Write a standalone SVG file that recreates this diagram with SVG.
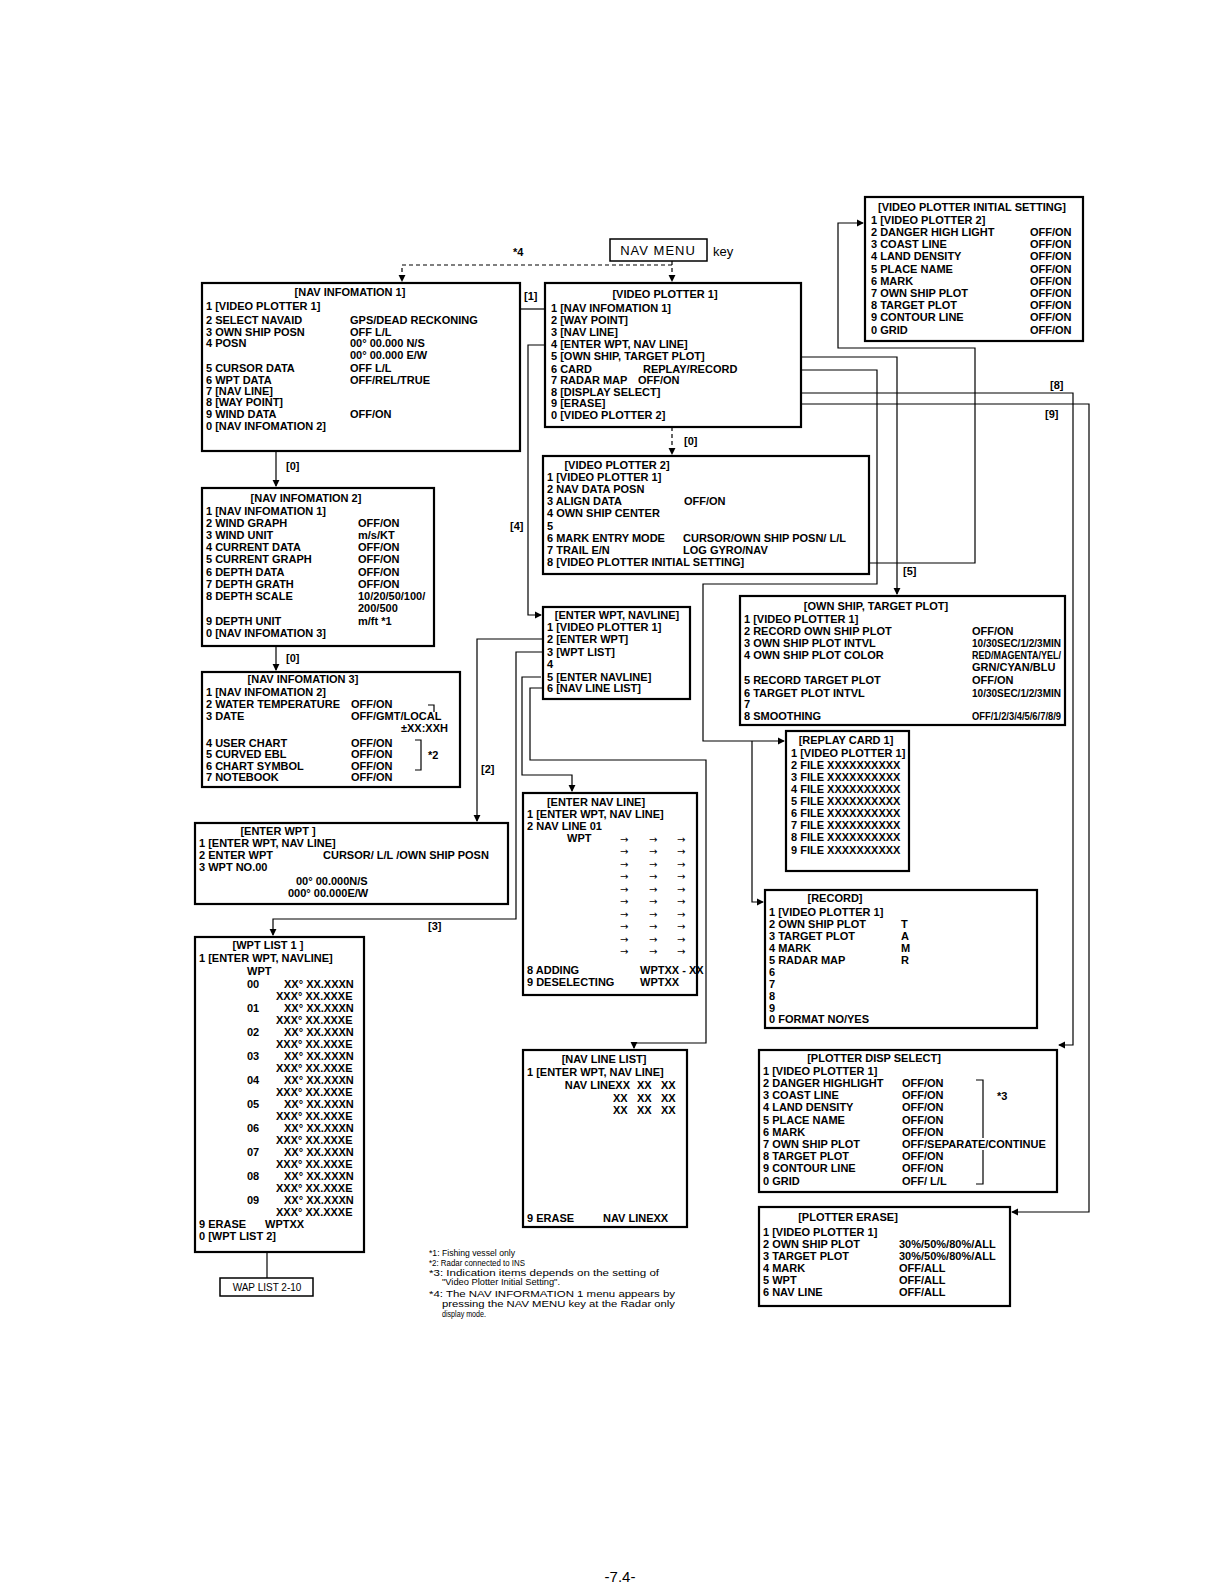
<svg xmlns="http://www.w3.org/2000/svg" width="1224" height="1584" viewBox="0 0 1224 1584">
<defs>
<style>
.b{fill:#fff;stroke:#000;stroke-width:2.2}
.t{font-family:"Liberation Sans",Arial,sans-serif;font-weight:bold;font-size:11px;fill:#000}
.h{text-anchor:middle}
.s{font-family:"Liberation Sans",Arial,sans-serif;font-size:9px;fill:#000}
.ar{font-family:"DejaVu Sans",sans-serif;font-size:10px;fill:#000}
.c{fill:none;stroke:#000;stroke-width:1.2}
.d{fill:none;stroke:#000;stroke-width:1.2;stroke-dasharray:4 3}
</style>
<marker id="a" viewBox="0 0 8 8" refX="7" refY="4" markerWidth="6" markerHeight="6" orient="auto"><path d="M0,0L8,4L0,8z" fill="#000"/></marker>
</defs>
<rect width="1224" height="1584" fill="#fff"/>

<g id="connectors">
<path class="d" d="M672,265H402V281" marker-end="url(#a)"/>
<path class="d" d="M672,261V281" marker-end="url(#a)"/>
<text class="t" x="513" y="256">*4</text>
<path class="c" d="M520,309H545"/>
<text class="t" x="524" y="300">[1]</text>
<path class="d" d="M672,427V454" marker-end="url(#a)"/>
<text class="t" x="684" y="445">[0]</text>
<path class="c" d="M276,451V486" marker-end="url(#a)"/>
<text class="t" x="286" y="470">[0]</text>
<path class="c" d="M276,646V670" marker-end="url(#a)"/>
<text class="t" x="286" y="662">[0]</text>
<path class="c" d="M545,345H528V615H541" marker-end="url(#a)"/>
<text class="t" x="510" y="530">[4]</text>
<path class="c" d="M543,639H477V821" marker-end="url(#a)"/>
<text class="t" x="481" y="773">[2]</text>
<path class="c" d="M543,652H516V919H273V935" marker-end="url(#a)"/>
<text class="t" x="428" y="930">[3]</text>
<path class="c" d="M541,677H522V775H572V791" marker-end="url(#a)"/>
<path class="c" d="M543,688H530V760H706V1043H634V1048" marker-end="url(#a)"/>
<path class="c" d="M716,357H897V594" marker-end="url(#a)"/>
<text class="t" x="903" y="575">[5]</text>
<path class="c" d="M743,370H877V584H703V741H784" marker-end="url(#a)"/>
<path class="c" d="M752,741V902H763" marker-end="url(#a)"/>
<path class="c" d="M752,563H975V348H838V223H863" marker-end="url(#a)"/>
<path class="c" d="M668,393H1073V1045H1059" marker-end="url(#a)"/>
<text class="t" x="1050" y="389">[8]</text>
<path class="c" d="M612,404H1089V1212H1012" marker-end="url(#a)"/>
<text class="t" x="1045" y="418">[9]</text>
<path class="c" d="M267,1252V1278"/>
<path class="c" d="M731,502c8,0 14,-1 22,-4" marker-end="url(#a)"/>
</g>

<g id="nav-menu-key">
<rect x="610" y="239" width="97" height="22" fill="#fff" stroke="#000" stroke-width="1.5"/>
<text x="658" y="255" text-anchor="middle" style="font-family:'Liberation Sans',Arial,sans-serif;font-size:13px;letter-spacing:1px">NAV MENU</text>
<text x="713" y="256" style="font-family:'Liberation Sans',Arial,sans-serif;font-size:13px">key</text>
</g>

<g id="video-plotter-initial-setting">
<rect class="b" x="865" y="197" width="218" height="144"/>
<text class="t h" x="972" y="211">[VIDEO PLOTTER INITIAL SETTING]</text>
<text class="t" x="871" y="224">1 [VIDEO PLOTTER 2]</text>
<text class="t" x="871" y="236">2 DANGER HIGH LIGHT</text><text class="t" x="1030" y="236">OFF/ON</text>
<text class="t" x="871" y="248">3 COAST LINE</text><text class="t" x="1030" y="248">OFF/ON</text>
<text class="t" x="871" y="260">4 LAND DENSITY</text><text class="t" x="1030" y="260">OFF/ON</text>
<text class="t" x="871" y="273">5 PLACE NAME</text><text class="t" x="1030" y="273">OFF/ON</text>
<text class="t" x="871" y="285">6 MARK</text><text class="t" x="1030" y="285">OFF/ON</text>
<text class="t" x="871" y="297">7 OWN SHIP PLOT</text><text class="t" x="1030" y="297">OFF/ON</text>
<text class="t" x="871" y="309">8 TARGET PLOT</text><text class="t" x="1030" y="309">OFF/ON</text>
<text class="t" x="871" y="321">9 CONTOUR LINE</text><text class="t" x="1030" y="321">OFF/ON</text>
<text class="t" x="871" y="334">0 GRID</text><text class="t" x="1030" y="334">OFF/ON</text>
</g>

<g id="nav-information-1">
<rect class="b" x="202" y="283" width="318" height="168"/>
<text class="t h" x="350" y="296">[NAV INFOMATION 1]</text>
<text class="t" x="206" y="310">1 [VIDEO PLOTTER 1]</text>
<text class="t" x="206" y="324">2 SELECT NAVAID</text><text class="t" x="350" y="324">GPS/DEAD RECKONING</text>
<text class="t" x="206" y="336">3 OWN SHIP POSN</text><text class="t" x="350" y="336">OFF L/L</text>
<text class="t" x="206" y="347">4 POSN</text><text class="t" x="350" y="347">00° 00.000 N/S</text>
<text class="t" x="350" y="359">00° 00.000 E/W</text>
<text class="t" x="206" y="372">5 CURSOR DATA</text><text class="t" x="350" y="372">OFF L/L</text>
<text class="t" x="206" y="384">6 WPT DATA</text><text class="t" x="350" y="384">OFF/REL/TRUE</text>
<text class="t" x="206" y="395">7 [NAV LINE]</text>
<text class="t" x="206" y="406">8 [WAY POINT]</text>
<text class="t" x="206" y="418">9 WIND DATA</text><text class="t" x="350" y="418">OFF/ON</text>
<text class="t" x="206" y="430">0 [NAV INFOMATION 2]</text>
</g>

<g id="video-plotter-1">
<rect class="b" x="545" y="283" width="256" height="144"/>
<text class="t h" x="665" y="298">[VIDEO PLOTTER 1]</text>
<text class="t" x="551" y="312">1 [NAV INFOMATION 1]</text>
<text class="t" x="551" y="324">2 [WAY POINT]</text>
<text class="t" x="551" y="336">3 [NAV LINE]</text>
<text class="t" x="551" y="348">4 [ENTER WPT, NAV LINE]</text>
<text class="t" x="551" y="360">5 [OWN SHIP, TARGET PLOT]</text>
<text class="t" x="551" y="373">6 CARD</text><text class="t" x="643" y="373">REPLAY/RECORD</text>
<text class="t" x="551" y="384">7 RADAR MAP</text><text class="t" x="638" y="384">OFF/ON</text>
<text class="t" x="551" y="396">8 [DISPLAY SELECT]</text>
<text class="t" x="551" y="407">9 [ERASE]</text>
<text class="t" x="551" y="419">0 [VIDEO PLOTTER 2]</text>
</g>

<g id="video-plotter-2">
<rect class="b" x="543" y="456" width="326" height="118"/>
<text class="t h" x="617" y="469">[VIDEO PLOTTER 2]</text>
<text class="t" x="547" y="481">1 [VIDEO PLOTTER 1]</text>
<text class="t" x="547" y="493">2 NAV DATA POSN</text>
<text class="t" x="547" y="505">3 ALIGN DATA</text><text class="t" x="684" y="505">OFF/ON</text>
<text class="t" x="547" y="517">4 OWN SHIP CENTER</text>
<text class="t" x="547" y="530">5</text>
<text class="t" x="547" y="542">6 MARK ENTRY MODE</text><text class="t" x="683" y="542">CURSOR/OWN SHIP POSN/ L/L</text>
<text class="t" x="547" y="554">7 TRAIL E/N</text><text class="t" x="683" y="554">LOG GYRO/NAV</text>
<text class="t" x="547" y="566">8 [VIDEO PLOTTER INITIAL SETTING]</text>
</g>

<g id="nav-information-2">
<rect class="b" x="202" y="488" width="232" height="158"/>
<text class="t h" x="306" y="502">[NAV INFOMATION 2]</text>
<text class="t" x="206" y="515">1 [NAV INFOMATION 1]</text>
<text class="t" x="206" y="527">2 WIND GRAPH</text><text class="t" x="358" y="527">OFF/ON</text>
<text class="t" x="206" y="539">3 WIND UNIT</text><text class="t" x="358" y="539">m/s/KT</text>
<text class="t" x="206" y="551">4 CURRENT DATA</text><text class="t" x="358" y="551">OFF/ON</text>
<text class="t" x="206" y="563">5 CURRENT GRAPH</text><text class="t" x="358" y="563">OFF/ON</text>
<text class="t" x="206" y="576">6 DEPTH DATA</text><text class="t" x="358" y="576">OFF/ON</text>
<text class="t" x="206" y="588">7 DEPTH GRATH</text><text class="t" x="358" y="588">OFF/ON</text>
<text class="t" x="206" y="600">8 DEPTH SCALE</text><text class="t" x="358" y="600">10/20/50/100/</text>
<text class="t" x="358" y="612">200/500</text>
<text class="t" x="206" y="625">9 DEPTH UNIT</text><text class="t" x="358" y="625">m/ft *1</text>
<text class="t" x="206" y="637">0 [NAV INFOMATION 3]</text>
</g>

<g id="nav-information-3">
<rect class="b" x="202" y="672" width="258" height="115"/>
<text class="t h" x="303" y="683">[NAV INFOMATION 3]</text>
<text class="t" x="206" y="696">1 [NAV INFOMATION 2]</text>
<text class="t" x="206" y="708">2 WATER TEMPERATURE</text><text class="t" x="351" y="708">OFF/ON</text>
<text class="t" x="206" y="720">3 DATE</text><text class="t" x="351" y="720">OFF/GMT/LOCAL</text>
<text class="t" x="448" y="732" text-anchor="end">±XX:XXH</text>
<text class="t" x="206" y="747">4 USER CHART</text><text class="t" x="351" y="747">OFF/ON</text>
<text class="t" x="206" y="758">5 CURVED EBL</text><text class="t" x="351" y="758">OFF/ON</text>
<text class="t" x="206" y="770">6 CHART SYMBOL</text><text class="t" x="351" y="770">OFF/ON</text>
<text class="t" x="206" y="781">7 NOTEBOOK</text><text class="t" x="351" y="781">OFF/ON</text>
<path class="c" d="M428,705H434V712"/>
<path class="c" d="M415,740H421V770H415"/>
<text class="t" x="428" y="759">*2</text>
</g>

<g id="enter-wpt">
<rect class="b" x="195" y="823" width="313" height="81"/>
<text class="t h" x="278" y="835">[ENTER WPT ]</text>
<text class="t" x="199" y="847">1 [ENTER WPT, NAV LINE]</text>
<text class="t" x="199" y="859">2 ENTER WPT</text><text class="t" x="323" y="859">CURSOR/ L/L /OWN SHIP POSN</text>
<text class="t" x="199" y="871">3 WPT NO.00</text>
<text class="t" x="296" y="885">00° 00.000N/S</text>
<text class="t" x="288" y="897">000° 00.000E/W</text>
</g>

<g id="wpt-list-1">
<rect class="b" x="195" y="937" width="169" height="315"/>
<text class="t h" x="268" y="949">[WPT LIST 1 ]</text>
<text class="t" x="199" y="962">1 [ENTER WPT, NAVLINE]</text>
<text class="t" x="247" y="975">WPT</text>
<text class="t" x="247" y="988">00</text><text class="t" x="284" y="988">XX° XX.XXXN</text><text class="t" x="276" y="1000">XXX° XX.XXXE</text>
<text class="t" x="247" y="1012">01</text><text class="t" x="284" y="1012">XX° XX.XXXN</text><text class="t" x="276" y="1024">XXX° XX.XXXE</text>
<text class="t" x="247" y="1036">02</text><text class="t" x="284" y="1036">XX° XX.XXXN</text><text class="t" x="276" y="1048">XXX° XX.XXXE</text>
<text class="t" x="247" y="1060">03</text><text class="t" x="284" y="1060">XX° XX.XXXN</text><text class="t" x="276" y="1072">XXX° XX.XXXE</text>
<text class="t" x="247" y="1084">04</text><text class="t" x="284" y="1084">XX° XX.XXXN</text><text class="t" x="276" y="1096">XXX° XX.XXXE</text>
<text class="t" x="247" y="1108">05</text><text class="t" x="284" y="1108">XX° XX.XXXN</text><text class="t" x="276" y="1120">XXX° XX.XXXE</text>
<text class="t" x="247" y="1132">06</text><text class="t" x="284" y="1132">XX° XX.XXXN</text><text class="t" x="276" y="1144">XXX° XX.XXXE</text>
<text class="t" x="247" y="1156">07</text><text class="t" x="284" y="1156">XX° XX.XXXN</text><text class="t" x="276" y="1168">XXX° XX.XXXE</text>
<text class="t" x="247" y="1180">08</text><text class="t" x="284" y="1180">XX° XX.XXXN</text><text class="t" x="276" y="1192">XXX° XX.XXXE</text>
<text class="t" x="247" y="1204">09</text><text class="t" x="284" y="1204">XX° XX.XXXN</text><text class="t" x="276" y="1216">XXX° XX.XXXE</text>
<text class="t" x="199" y="1228">9 ERASE</text><text class="t" x="265" y="1228">WPTXX</text>
<text class="t" x="199" y="1240">0 [WPT LIST 2]</text>
</g>

<g id="wpt-list-2-10">
<rect x="220" y="1278" width="93" height="18" fill="#fff" stroke="#000" stroke-width="1.5"/>
<text class="h" x="267" y="1291" style="font-family:'Liberation Sans',Arial,sans-serif;font-size:10px">WAP LIST 2-10</text>
</g>

<g id="enter-wpt-navline">
<rect class="b" x="543" y="607" width="147" height="92"/>
<text class="t h" x="617" y="619">[ENTER WPT, NAVLINE]</text>
<text class="t" x="547" y="631">1 [VIDEO PLOTTER 1]</text>
<text class="t" x="547" y="643">2 [ENTER WPT]</text>
<text class="t" x="547" y="656">3 [WPT LIST]</text>
<text class="t" x="547" y="668">4</text>
<text class="t" x="547" y="681">5 [ENTER NAVLINE]</text>
<text class="t" x="547" y="692">6 [NAV LINE LIST]</text>
</g>

<g id="own-ship-target-plot">
<rect class="b" x="740" y="596" width="325" height="129"/>
<text class="t h" x="876" y="610">[OWN SHIP, TARGET PLOT]</text>
<text class="t" x="744" y="623">1 [VIDEO PLOTTER 1]</text>
<text class="t" x="744" y="635">2 RECORD OWN SHIP PLOT</text><text class="t" x="972" y="635">OFF/ON</text>
<text class="t" x="744" y="647">3 OWN SHIP PLOT INTVL</text><text class="t" x="972" y="647" textLength="89" lengthAdjust="spacingAndGlyphs">10/30SEC/1/2/3MIN</text>
<text class="t" x="744" y="659">4 OWN SHIP PLOT COLOR</text><text class="t" x="972" y="659" textLength="89" lengthAdjust="spacingAndGlyphs">RED/MAGENTA/YEL/</text>
<text class="t" x="972" y="671">GRN/CYAN/BLU</text>
<text class="t" x="744" y="684">5 RECORD TARGET PLOT</text><text class="t" x="972" y="684">OFF/ON</text>
<text class="t" x="744" y="697">6 TARGET PLOT INTVL</text><text class="t" x="972" y="697" textLength="89" lengthAdjust="spacingAndGlyphs">10/30SEC/1/2/3MIN</text>
<text class="t" x="744" y="708">7</text>
<text class="t" x="744" y="720">8 SMOOTHING</text><text class="t" x="972" y="720" textLength="89" lengthAdjust="spacingAndGlyphs">OFF/1/2/3/4/5/6/7/8/9</text>
</g>

<g id="replay-card-1">
<rect class="b" x="786" y="731" width="123" height="140"/>
<text class="t h" x="846" y="744">[REPLAY CARD 1]</text>
<text class="t" x="791" y="757">1 [VIDEO PLOTTER 1]</text>
<text class="t" x="791" y="769">2 FILE XXXXXXXXXX</text>
<text class="t" x="791" y="781">3 FILE XXXXXXXXXX</text>
<text class="t" x="791" y="793">4 FILE XXXXXXXXXX</text>
<text class="t" x="791" y="805">5 FILE XXXXXXXXXX</text>
<text class="t" x="791" y="817">6 FILE XXXXXXXXXX</text>
<text class="t" x="791" y="829">7 FILE XXXXXXXXXX</text>
<text class="t" x="791" y="841">8 FILE XXXXXXXXXX</text>
<text class="t" x="791" y="854">9 FILE XXXXXXXXXX</text>
</g>

<g id="record">
<rect class="b" x="765" y="890" width="272" height="138"/>
<text class="t h" x="835" y="902">[RECORD]</text>
<text class="t" x="769" y="916">1 [VIDEO PLOTTER 1]</text>
<text class="t" x="769" y="928">2 OWN SHIP PLOT</text><text class="t" x="901" y="928">T</text>
<text class="t" x="769" y="940">3 TARGET PLOT</text><text class="t" x="901" y="940">A</text>
<text class="t" x="769" y="952">4 MARK</text><text class="t" x="901" y="952">M</text>
<text class="t" x="769" y="964">5 RADAR MAP</text><text class="t" x="901" y="964">R</text>
<text class="t" x="769" y="976">6</text>
<text class="t" x="769" y="988">7</text>
<text class="t" x="769" y="1000">8</text>
<text class="t" x="769" y="1012">9</text>
<text class="t" x="769" y="1023">0 FORMAT  NO/YES</text>
</g>

<g id="enter-nav-line">
<rect class="b" x="523" y="793" width="174" height="202"/>
<text class="t h" x="596" y="806">[ENTER NAV LINE]</text>
<text class="t" x="527" y="818">1 [ENTER WPT, NAV LINE]</text>
<text class="t" x="527" y="830">2 NAV LINE 01</text>
<text class="t" x="567" y="842">WPT</text>
<g class="ar">
<text x="620" y="843">→</text><text x="649" y="843">→</text><text x="677" y="843">→</text>
<text x="620" y="855">→</text><text x="649" y="855">→</text><text x="677" y="855">→</text>
<text x="620" y="868">→</text><text x="649" y="868">→</text><text x="677" y="868">→</text>
<text x="620" y="880">→</text><text x="649" y="880">→</text><text x="677" y="880">→</text>
<text x="620" y="893">→</text><text x="649" y="893">→</text><text x="677" y="893">→</text>
<text x="620" y="905">→</text><text x="649" y="905">→</text><text x="677" y="905">→</text>
<text x="620" y="918">→</text><text x="649" y="918">→</text><text x="677" y="918">→</text>
<text x="620" y="930">→</text><text x="649" y="930">→</text><text x="677" y="930">→</text>
<text x="620" y="943">→</text><text x="649" y="943">→</text><text x="677" y="943">→</text>
<text x="620" y="955">→</text><text x="649" y="955">→</text><text x="677" y="955">→</text>
</g>
<text class="t" x="527" y="974">8 ADDING</text><text class="t" x="640" y="974">WPTXX - XX</text>
<text class="t" x="527" y="986">9 DESELECTING</text><text class="t" x="640" y="986">WPTXX</text>
</g>

<g id="nav-line-list">
<rect class="b" x="523" y="1050" width="164" height="177"/>
<text class="t h" x="604" y="1063">[NAV LINE LIST]</text>
<text class="t" x="527" y="1076">1 [ENTER WPT, NAV LINE]</text>
<text class="t" x="630" y="1089" text-anchor="end">NAV LINEXX</text><text class="t" x="637" y="1089">XX</text><text class="t" x="661" y="1089">XX</text>
<text class="t" x="613" y="1102">XX</text><text class="t" x="637" y="1102">XX</text><text class="t" x="661" y="1102">XX</text>
<text class="t" x="613" y="1114">XX</text><text class="t" x="637" y="1114">XX</text><text class="t" x="661" y="1114">XX</text>
<text class="t" x="527" y="1222">9 ERASE</text><text class="t" x="603" y="1222">NAV LINEXX</text>
</g>

<g id="plotter-disp-select">
<rect class="b" x="759" y="1050" width="298" height="142"/>
<text class="t h" x="874" y="1062">[PLOTTER DISP SELECT]</text>
<text class="t" x="763" y="1075">1 [VIDEO PLOTTER 1]</text>
<text class="t" x="763" y="1087">2 DANGER HIGHLIGHT</text><text class="t" x="902" y="1087">OFF/ON</text>
<text class="t" x="763" y="1099">3 COAST LINE</text><text class="t" x="902" y="1099">OFF/ON</text>
<text class="t" x="763" y="1111">4 LAND DENSITY</text><text class="t" x="902" y="1111">OFF/ON</text>
<text class="t" x="763" y="1124">5 PLACE NAME</text><text class="t" x="902" y="1124">OFF/ON</text>
<text class="t" x="763" y="1136">6 MARK</text><text class="t" x="902" y="1136">OFF/ON</text>
<text class="t" x="763" y="1148">7 OWN SHIP PLOT</text><text class="t" x="902" y="1148">OFF/SEPARATE/CONTINUE</text>
<text class="t" x="763" y="1160">8 TARGET PLOT</text><text class="t" x="902" y="1160">OFF/ON</text>
<text class="t" x="763" y="1172">9 CONTOUR LINE</text><text class="t" x="902" y="1172">OFF/ON</text>
<text class="t" x="763" y="1185">0 GRID</text><text class="t" x="902" y="1185">OFF/ L/L</text>
<path class="c" d="M976,1080H983V1138M983,1150V1184H976"/>
<text class="t" x="997" y="1100">*3</text>
</g>

<g id="plotter-erase">
<rect class="b" x="759" y="1207" width="251" height="99"/>
<text class="t h" x="848" y="1221">[PLOTTER ERASE]</text>
<text class="t" x="763" y="1236">1 [VIDEO PLOTTER 1]</text>
<text class="t" x="763" y="1248">2 OWN SHIP PLOT</text><text class="t" x="899" y="1248">30%/50%/80%/ALL</text>
<text class="t" x="763" y="1260">3 TARGET PLOT</text><text class="t" x="899" y="1260">30%/50%/80%/ALL</text>
<text class="t" x="763" y="1272">4 MARK</text><text class="t" x="899" y="1272">OFF/ALL</text>
<text class="t" x="763" y="1284">5 WPT</text><text class="t" x="899" y="1284">OFF/ALL</text>
<text class="t" x="763" y="1296">6 NAV LINE</text><text class="t" x="899" y="1296">OFF/ALL</text>
</g>

<g id="footnotes">
<text class="s" x="429" y="1256" textLength="86" lengthAdjust="spacingAndGlyphs">*1: Fishing vessel only</text>
<text class="s" x="429" y="1266" textLength="96" lengthAdjust="spacingAndGlyphs">*2: Radar connected to INS</text>
<text class="s" x="429" y="1276" textLength="230" lengthAdjust="spacingAndGlyphs">*3: Indication items depends on the setting of</text>
<text class="s" x="442" y="1285" textLength="118" lengthAdjust="spacingAndGlyphs">"Video Plotter Initial Setting".</text>
<text class="s" x="429" y="1297" textLength="246" lengthAdjust="spacingAndGlyphs">*4: The NAV INFORMATION 1 menu appears by</text>
<text class="s" x="442" y="1307" textLength="233" lengthAdjust="spacingAndGlyphs">pressing the NAV MENU key at the Radar only</text>
<text class="s" x="442" y="1317" textLength="44" lengthAdjust="spacingAndGlyphs">display mode.</text>
</g>

<text x="620" y="1582" text-anchor="middle" style="font-family:'Liberation Sans',Arial,sans-serif;font-size:15px">-7.4-</text>
</svg>
